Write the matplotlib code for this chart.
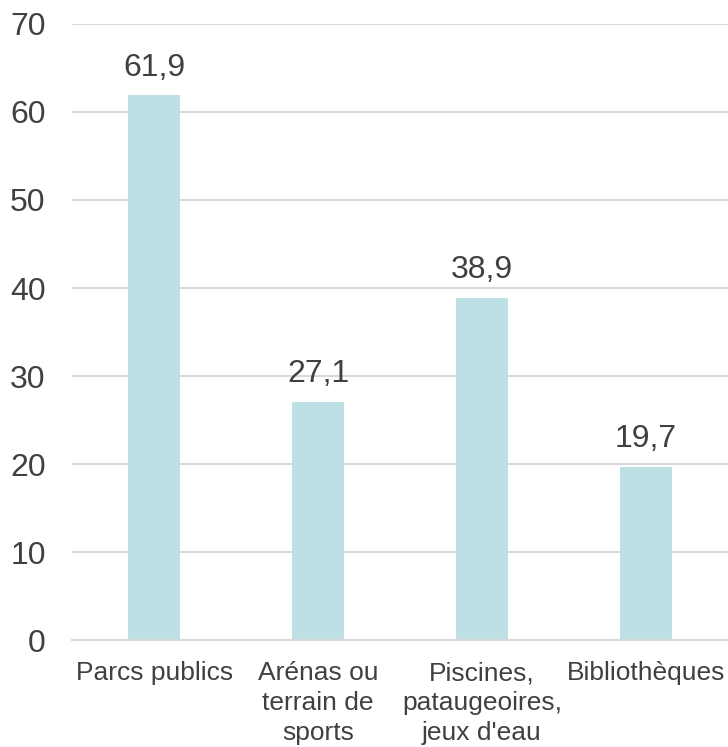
import matplotlib.pyplot as plt

plt.rcParams['font.family'] = ['Liberation Sans', 'DejaVu Sans']

# données
categories = ['Parcs publics', 'Arénas ou\nterrain de\nsports',
              'Piscines,\npataugeoires,\njeux d\'eau', 'Bibliothèques']
values = [61.9, 27.1, 38.9, 19.7]
yticks = [0, 10, 20, 30, 40, 50, 60, 70]

text_color = '#404040'
bar_color = '#BCE0E3'
grid_color = '#D9D9D9'

fig = plt.figure(figsize=(7.28, 7.47), dpi=100)
ax = fig.add_axes([0.099, 0.143, 0.901, 0.825])

x = range(len(categories))
bars = ax.bar(x, values, width=0.32, color=bar_color, zorder=2)

# étiquettes de valeurs (virgule décimale)
for xi, v in zip(x, values):
    ax.annotate(f'{v:.1f}'.replace('.', ','), (xi, v), xytext=(0, 9),
                textcoords='offset points', ha='center', va='bottom',
                fontsize=23, color=text_color)

ax.set_ylim(0, 70)
ax.set_xlim(-0.5, len(categories) - 0.5)
ax.set_yticks(yticks)
ax.set_yticklabels([str(t) for t in yticks])
ax.set_xticks(list(x))
ax.set_xticklabels(categories, linespacing=1.32)

ax.yaxis.grid(True, color=grid_color, linewidth=1.5, zorder=0)
ax.tick_params(axis='y', length=0, pad=19, labelsize=23, labelcolor=text_color)
ax.tick_params(axis='x', length=0, pad=15, labelsize=19, labelcolor=text_color)

for s in ['top', 'right', 'left']:
    ax.spines[s].set_visible(False)
ax.spines['bottom'].set_color(grid_color)
ax.spines['bottom'].set_linewidth(1.5)

fig.savefig('out.png', dpi=100)
